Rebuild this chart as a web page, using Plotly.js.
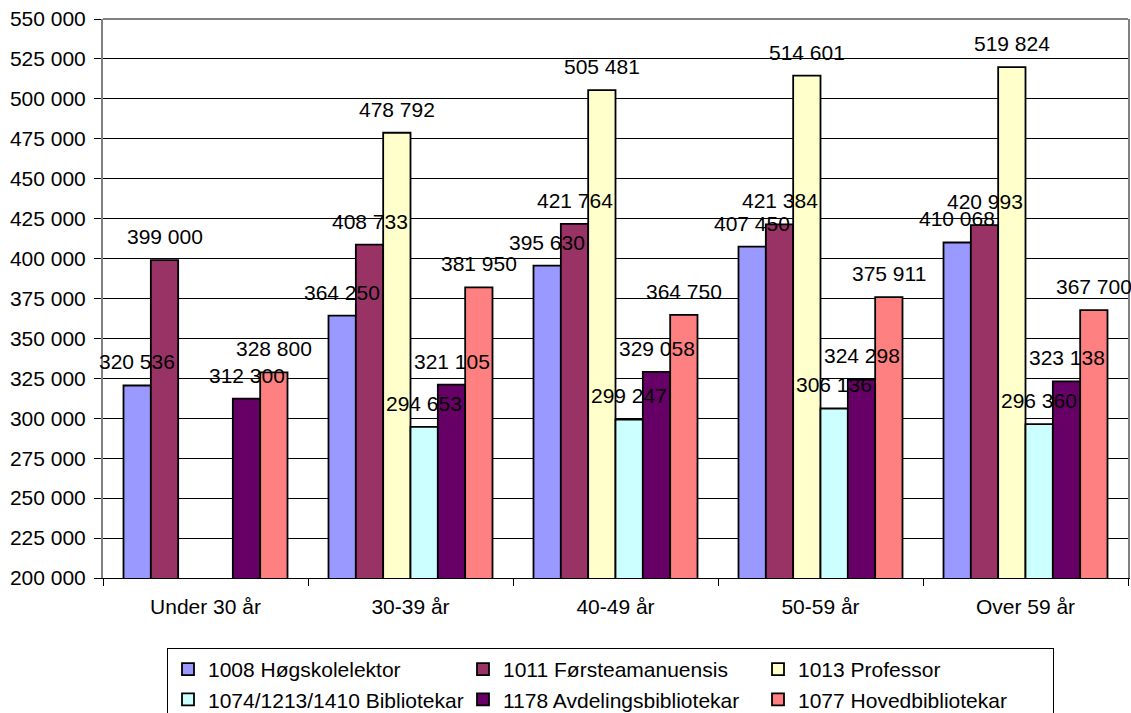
<!DOCTYPE html>
<html>
<head>
<meta charset="utf-8">
<script src="https://cdn.plot.ly/plotly-3.0.1.min.js"></script>
<style>html,body{margin:0;padding:0;background:#fff;}#chart{width:1131px;height:713px;}</style>
</head>
<body>
<div id="chart"></div>
<script>
const categories = ["Under 30 år", "30-39 år", "40-49 år", "50-59 år", "Over 59 år"];
const seriesNames = ["1008 Høgskolelektor", "1011 Førsteamanuensis", "1013 Professor",
                     "1074/1213/1410 Bibliotekar", "1178 Avdelingsbibliotekar", "1077 Hovedbibliotekar"];
const hogskolelektor = [320536, 364250, 395630, 407450, 410068];
const forsteamanuensis = [399000, 408733, 421764, 421384, 420993];
const professor = [null, 478792, 505481, 514601, 519824];
const bibliotekar = [null, 294653, 299247, 306136, 296360];
const avdelingsbibliotekar = [312300, 321105, 329058, 324298, 323138];
const hovedbibliotekar = [328800, 381950, 364750, 375911, 367700];
const seriesValues = [hogskolelektor, forsteamanuensis, professor, bibliotekar, avdelingsbibliotekar, hovedbibliotekar];
const colors = ["#9999FF", "#993366", "#FFFFCC", "#CCFFFF", "#660066", "#FF8080"];

const FONT = "Liberation Sans, Arial, sans-serif";
const W = 1131, H = 713;
const margin = {l: 103, r: 3, t: 19, b: 135};
const plotW = W - margin.l - margin.r;
const plotH = H - margin.t - margin.b;
const bargap = 0.2;
const catW = plotW / categories.length;
const barW = catW * (1 - bargap) / seriesNames.length;

function fmt(v) { return String(v).replace(/\B(?=(\d{3})+(?!\d))/g, " "); }

const traces = seriesNames.map((name, i) => ({
  type: "bar",
  name: name,
  x: categories,
  y: seriesValues[i],
  marker: {color: colors[i], line: {color: "#000", width: 1.8}},
  hoverinfo: "x+y+name"
}));

const annotations = [];
seriesValues.forEach((vals, i) => {
  vals.forEach((v, j) => {
    if (v === null) return;
    annotations.push({
      x: categories[j], y: v, xref: "x", yref: "y",
      text: fmt(v), showarrow: false,
      xanchor: "center", yanchor: "bottom",
      xshift: (i - (seriesNames.length - 1) / 2) * barW,
      yshift: 10,
      font: {family: FONT, size: 21, color: "#000"}
    });
  });
});

const layout = {
  width: W, height: H,
  margin: Object.assign({pad: 0, autoexpand: false}, margin),
  paper_bgcolor: "#fff", plot_bgcolor: "#fff",
  font: {family: FONT, size: 21, color: "#000"},
  barmode: "group", bargap: bargap, bargroupgap: 0,
  showlegend: true,
  xaxis: {
    type: "category", showgrid: false,
    range: [-0.5, categories.length - 0.5], autorange: false,
    showline: true, linecolor: "#000", linewidth: 1,
    ticks: "outside", tickson: "boundaries", ticklen: 7, tickcolor: "#000",
    ticklabelstandoff: 10,
    tickfont: {family: FONT, size: 21, color: "#000"}
  },
  yaxis: {
    range: [200000, 550000], dtick: 25000, tick0: 200000,
    tickformat: ",d", showgrid: true, gridcolor: "#000", gridwidth: 1,
    showline: true, linecolor: "#808080", linewidth: 2, mirror: true,
    ticks: "outside", ticklen: 7, tickcolor: "#000",
    ticklabelstandoff: 4, zeroline: false,
    tickfont: {family: FONT, size: 21, color: "#000"}
  },
  separators: ", ",
  shapes: [{type: "line", xref: "paper", yref: "paper", x0: 0, x1: 1, y0: 1, y1: 1,
            line: {color: "#808080", width: 2}, layer: "above"}],
  legend: {
    orientation: "h", x: (167 - margin.l) / plotW, xanchor: "left",
    y: (578 - 648) / plotH, yanchor: "top",
    bordercolor: "#000", borderwidth: 1, bgcolor: "#fff",
    entrywidth: 250, entrywidthmode: "pixels", traceorder: "normal",
    font: {family: FONT, size: 21, color: "#000"}, itemclick: false
  },
  annotations: annotations
};

Plotly.newPlot("chart", traces, layout, {displayModeBar: false, staticPlot: true});
</script>
</body>
</html>
